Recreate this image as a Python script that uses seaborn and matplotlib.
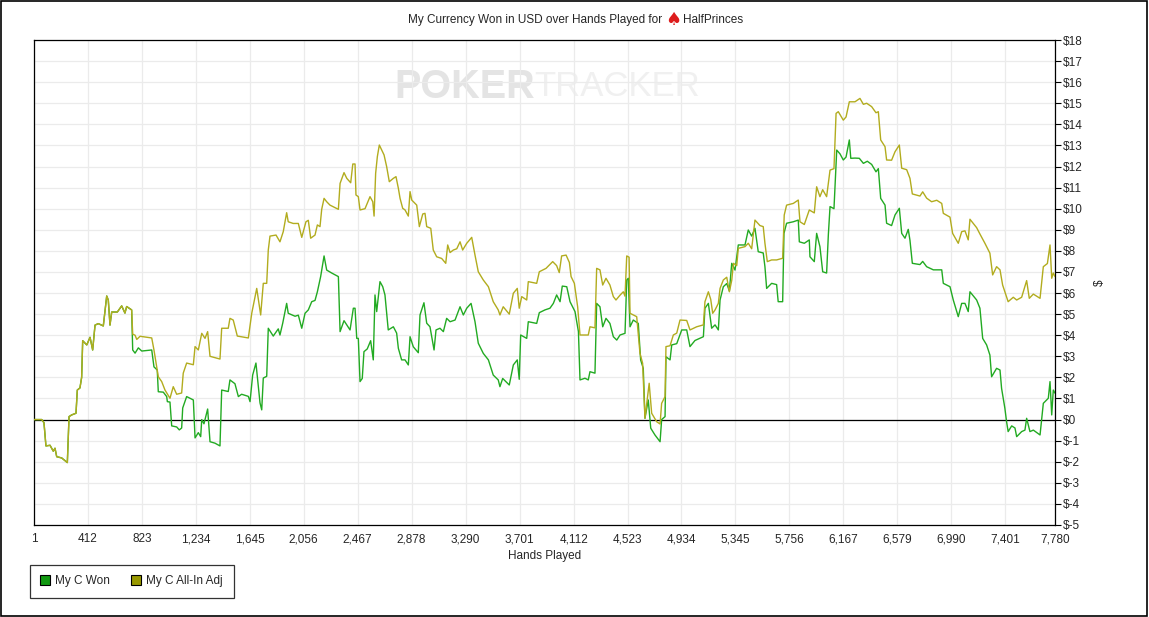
import pandas as pd
import numpy as np
import matplotlib.pyplot as plt
import seaborn as sns
from matplotlib.lines import Line2D
from matplotlib.patches import Rectangle

# ------------------ Data ------------------
won_hands = [1, 60, 77, 92, 123, 148, 161, 174, 212, 255, 268, 288, 321, 331, 351, 364, 372, 403, 428, 448,
             466, 491, 529, 555, 567, 580, 593, 636, 669, 694, 707, 745, 753, 771, 796, 822, 898, 915, 940, 948,
             986, 1012, 1017, 1037, 1050, 1088, 1108, 1126, 1134, 1164, 1215, 1228, 1253, 1271, 1279, 1296, 1324,
             1342, 1380, 1418, 1431, 1481, 1494, 1532, 1558, 1583, 1634, 1647, 1667, 1692, 1723, 1736, 1748, 1774,
             1786, 1824, 1862, 1875, 1896, 1926, 1938, 1990, 2015, 2041, 2066, 2091, 2117, 2142, 2160, 2185, 2211,
             2231, 2269, 2320, 2333, 2363, 2409, 2434, 2447, 2460, 2472, 2485, 2502, 2515, 2540, 2566, 2586, 2599,
             2612, 2637, 2658, 2675, 2700, 2739, 2764, 2777, 2802, 2828, 2853, 2866, 2891, 2929, 2942, 2972, 2993,
             3018, 3049, 3064, 3094, 3120, 3145, 3171, 3209, 3247, 3272, 3298, 3331, 3361, 3386, 3424, 3463, 3500,
             3538, 3551, 3572, 3622, 3653, 3683, 3698, 3709, 3755, 3767, 3831, 3851, 3894, 3932, 3958, 3983, 4009,
             4026, 4060, 4085, 4123, 4149, 4161, 4199, 4224, 4237, 4275, 4288, 4313, 4334, 4359, 4389, 4415, 4441,
             4466, 4504, 4517, 4529, 4542, 4567, 4605, 4623, 4643, 4656, 4681, 4700, 4732, 4771, 4783, 4809, 4816,
             4847, 4860, 4898, 4936, 4974, 4999, 5037, 5101, 5113, 5139, 5164, 5190, 5215, 5228, 5253, 5279, 5299,
             5317, 5342, 5367, 5418, 5443, 5469, 5494, 5519, 5557, 5570, 5583, 5621, 5659, 5671, 5705, 5715, 5735,
             5786, 5824, 5832, 5870, 5908, 5913, 5946, 5964, 5989, 6010, 6040, 6053, 6066, 6096, 6117, 6142, 6167,
             6188, 6213, 6224, 6256, 6289, 6320, 6350, 6383, 6416, 6434, 6452, 6485, 6497, 6535, 6561, 6594, 6612,
             6637, 6662, 6675, 6693, 6751, 6772, 6802, 6853, 6917, 6929, 6980, 7005, 7043, 7069, 7094, 7119, 7132,
             7183, 7208, 7229, 7259, 7284, 7297, 7335, 7361, 7373, 7398, 7411, 7423, 7450, 7475, 7488, 7526, 7551,
             7564, 7589, 7615, 7666, 7691, 7729, 7742, 7755, 7767, 7780]
won_usd = [0, 0, -0.15, -1.25, -1.22, -1.5, -1.36, -1.76, -1.82, -2.04, 0.14, 0.22, 0.3, 1.4, 1.5, 2.0, 3.74, 3.54,
           3.9, 3.3, 4.48, 4.55, 4.44, 5.86, 5.67, 4.48, 5.1, 5.1, 5.39, 5.05, 5.36, 5.2, 3.3, 3.15, 3.4, 3.25, 3.3,
           2.5, 2.35, 1.32, 1.3, 1.09, 0.85, 0.83, -0.3, -0.35, -0.49, -0.4, 0.55, 1.09, 0.93, -0.87, -0.62, -0.81,
           0, -0.2, 0.5, -1.05, -1.12, -1.25, 1.4, 1.33, 1.88, 1.7, 1.09, 1.2, 1.1, 0.85, 2.11, 2.68, 0.79, 0.46,
           1.97, 2.05, 4.33, 3.96, 4.3, 4.01, 4.57, 5.51, 5.04, 4.9, 4.95, 4.33, 5.04, 5.2, 5.59, 5.65, 6.06, 6.78,
           7.76, 7.09, 6.95, 6.78, 4.17, 4.69, 4.25, 5.28, 5.28, 3.85, 3.85, 1.8, 1.95, 3.22, 3.35, 3.74, 2.83,
           5.91, 5.12, 6.54, 6.3, 5.91, 4.25, 4.4, 4.1, 3.38, 2.83, 2.83, 2.59, 3.93, 3.45, 3.17, 4.96, 5.54, 4.57,
           4.4, 3.3, 4.25, 4.33, 4.17, 4.8, 4.64, 4.72, 5.35, 4.96, 5.28, 5.51, 4.64, 3.62, 3.14, 2.83, 2.11, 1.88,
           1.56, 1.95, 1.64, 2.59, 2.83, 1.91, 4.01, 3.85, 4.64, 4.56, 5.07, 5.2, 5.28, 5.51, 5.91, 5.59, 6.33, 6.3,
           5.59, 5.12, 4.17, 1.88, 1.96, 1.88, 2.27, 2.2, 5.51, 5.35, 4.4, 4.8, 4.56, 3.93, 3.77, 4.01, 4.09, 6.62,
           6.7, 4.4, 4.72, 4.56, 2.83, 2.43, 0.06, 0.93, -0.41, -0.73, -1.05, 0, 0.14, 2.98, 2.83, 3.54, 3.6, 4.25,
           4.25, 3.46, 3.75, 3.93, 5.28, 5.51, 4.33, 4.49, 4.25, 5.67, 6.3, 6.45, 6.1, 7.41, 7.09, 8.28, 8.28, 8.99,
           8.7, 9.07, 7.96, 7.9, 7.25, 6.22, 6.46, 6.4, 5.59, 5.59, 8.83, 9.31, 9.38, 9.46, 8.43, 8.36, 8.52, 7.72,
           7.49, 8.83, 8.2, 7.01, 6.95, 8.75, 10.1, 10.0, 12.78, 12.6, 12.31, 12.45, 13.26, 12.39, 12.4, 12.39,
           12.15, 12.25, 12.1, 11.75, 11.9, 10.49, 10.17, 9.31, 9.2, 9.7, 10.02, 8.83, 8.6, 9.02, 8.5, 7.41, 7.35,
           7.5, 7.25, 7.1, 7.1, 6.46, 6.3, 5.67, 4.88, 5.51, 5.51, 5.12, 6.06, 5.67, 5.28, 3.85, 3.54, 3.06, 2.03,
           2.43, 2.35, 1.48, 0.54, -0.1, -0.57, -0.3, -0.4, -0.81, -0.57, -0.5, 0.06, -0.57, -0.5, -0.73, 0.77,
           1.01, 1.8, 0.22, 1.4, 1.25]

adj_hands = won_hands[:32] + [
    753, 771, 784, 809, 898, 915, 948, 974, 999, 1037, 1062, 1088, 1126, 1138, 1164, 1215, 1228, 1253, 1279,
    1304, 1324, 1342, 1418, 1431, 1481, 1494, 1519, 1550, 1634, 1660, 1698, 1728, 1748, 1774, 1786, 1799, 1845,
    1875, 1900, 1926, 1938, 1976, 2015, 2041, 2073, 2091, 2109, 2142, 2160, 2180, 2193, 2211, 2231, 2256, 2320,
    2333, 2363, 2384, 2414, 2430, 2447, 2454, 2472, 2485, 2523, 2561, 2582, 2592, 2604, 2617, 2632, 2650, 2668,
    2688, 2708, 2739, 2759, 2777, 2790, 2810, 2828, 2853, 2866, 2879, 2917, 2937, 2963, 2980, 2993, 3024, 3043,
    3069, 3107, 3138, 3153, 3171, 3196, 3222, 3247, 3267, 3298, 3336, 3361, 3386, 3424, 3463, 3500, 3538, 3551,
    3576, 3622, 3653, 3683, 3698, 3717, 3755, 3767, 3831, 3851, 3902, 3953, 3983, 4003, 4021, 4055, 4080, 4093,
    4118, 4143, 4161, 4224, 4237, 4275, 4288, 4313, 4334, 4359, 4389, 4415, 4435, 4466, 4491, 4504, 4517, 4535,
    4542, 4593, 4618, 4638, 4656, 4688, 4707, 4745, 4771, 4783, 4809, 4816, 4847, 4872, 4898, 4923, 4974, 4999,
    5050, 5101, 5113, 5139, 5157, 5172, 5190, 5215, 5228, 5253, 5279, 5299, 5317, 5330, 5355, 5367, 5418, 5443,
    5469, 5494, 5532, 5557, 5570, 5588, 5621, 5659, 5705, 5717, 5735, 5786, 5824, 5837, 5870, 5908, 5946, 5964,
    5989, 6010, 6040, 6066, 6096, 6112, 6129, 6167, 6188, 6213, 6256, 6294, 6320, 6345, 6383, 6416, 6434, 6452,
    6485, 6497, 6535, 6561, 6594, 6612, 6650, 6675, 6693, 6751, 6772, 6802, 6840, 6879, 6917, 6929, 6980, 7000,
    7043, 7069, 7094, 7119, 7132, 7183, 7208, 7246, 7284, 7305, 7335, 7361, 7381, 7423, 7462, 7488, 7526, 7564,
    7584, 7615, 7666, 7691, 7722, 7742, 7755, 7767, 7780]
adj_usd = won_usd[:32] + [
    4.05, 4.0, 3.8, 3.95, 3.87, 3.3, 2.03, 1.8, 1.4, 1.01, 1.56, 1.2, 1.26, 2.2, 2.68, 2.6, 3.46, 3.3, 4.09,
    3.85, 4.17, 3.0, 2.87, 4.33, 4.33, 4.8, 4.72, 3.96, 3.87, 5.04, 6.22, 4.96, 6.46, 6.46, 8.04, 8.7, 8.75,
    8.43, 8.91, 9.81, 9.38, 9.3, 9.3, 8.64, 9.38, 9.45, 8.6, 8.75, 9.23, 9.15, 9.97, 10.49, 10.33, 10.17, 9.97,
    11.2, 11.71, 11.44, 11.23, 12.12, 12.12, 10.65, 10.57, 9.94, 10.0, 10.57, 10.33, 9.65, 11.68, 12.47, 13.02,
    12.78, 12.55, 11.99, 11.28, 11.44, 11.52, 10.97, 10.49, 10.02, 9.94, 9.65, 10.81, 10.41, 10.17, 9.15, 9.75,
    9.78, 9.15, 9.07, 8.04, 7.72, 7.64, 7.41, 8.28, 7.92, 8.04, 8.1, 8.43, 8.04, 8.36, 8.64, 7.8, 7.01, 6.62,
    6.3, 5.59, 5.2, 4.96, 5.35, 5.0, 5.99, 6.22, 5.28, 5.83, 5.67, 6.54, 6.46, 7.01, 7.17, 7.49, 7.3, 6.97,
    7.76, 7.8, 7.45, 6.78, 6.46, 5.35, 4.01, 4.01, 4.4, 4.35, 7.17, 7.1, 6.38, 6.7, 6.38, 5.83, 5.67, 5.9, 6.06,
    5.85, 7.76, 7.7, 5.04, 4.88, 3.14, 2.67, 0.06, 1.72, 0.3, -0.1, -0.21, 0.77, 1.09, 3.46, 3.5, 4.01, 4.1,
    4.72, 4.7, 4.25, 4.4, 4.49, 5.59, 6.06, 5.7, 5.04, 5.2, 5.51, 6.22, 6.62, 6.75, 6.06, 6.6, 7.41, 7.3, 8.12,
    8.2, 8.36, 8.1, 9.46, 9.2, 9.15, 8.36, 7.49, 7.57, 7.57, 7.65, 9.7, 10.17, 10.25, 10.41, 9.38, 9.25, 9.94,
    9.8, 11.04, 10.57, 10.9, 10.57, 11.83, 11.9, 14.52, 14.6, 14.2, 14.35, 15.07, 15.07, 15.23, 14.95, 15.0,
    14.84, 14.55, 14.6, 13.26, 12.94, 12.31, 12.3, 12.7, 13.02, 11.92, 11.85, 11.44, 10.7, 10.6, 10.8, 10.5,
    10.33, 10.4, 10.25, 9.78, 9.6, 8.83, 8.36, 8.91, 8.95, 8.52, 9.5, 9.1, 8.8, 8.36, 7.89, 6.86, 7.25, 7.1,
    6.38, 5.59, 5.8, 5.67, 5.8, 6.59, 5.75, 5.95, 5.75, 7.25, 7.4, 8.28, 6.7, 6.95, 6.78]

series_names = ["My C Won", "My C All-In Adj"]
x_ticks = [1, 412, 823, 1234, 1645, 2056, 2467, 2878, 3290, 3701, 4112, 4523, 4934, 5345, 5756,
           6167, 6579, 6990, 7401, 7780]
y_ticks = list(range(-5, 19))

df = pd.concat([
    pd.DataFrame({"hands": won_hands, "usd": won_usd, "series": series_names[0]}),
    pd.DataFrame({"hands": adj_hands, "usd": adj_usd, "series": series_names[1]}),
], ignore_index=True)

# ------------------ Style ------------------
sns.set_style("white")
plt.rcParams['font.family'] = ['Liberation Sans', 'DejaVu Sans']
fs = 8.5
line_colors = {"My C Won": "#22aa22", "My C All-In Adj": "#b2ac1e"}
legend_colors = ["#119911", "#999900"]

W, H = 1149, 617
fig = plt.figure(figsize=(W / 100, H / 100), dpi=100)
ax = fig.add_axes([34 / W, 1 - 525 / H, (1055 - 34) / W, (525 - 40) / H])

# grid
ax.set_xticks(x_ticks)
ax.set_yticks(y_ticks)
ax.grid(True, color="#ebebeb", lw=0.9)
ax.set_axisbelow(True)

# faint watermark
ax.text(0.353, 0.904, "POKER", transform=ax.transAxes, fontsize=28.5, fontweight="bold",
        color="#e4e4e4", ha="left", va="center", zorder=0)
ax.text(0.490, 0.904, "TRACKER", transform=ax.transAxes, fontsize=25,
        color="#f0f0f0", ha="left", va="center", zorder=0)

ax.axhline(0, color="black", lw=0.9, zorder=3)

sns.lineplot(data=df, x="hands", y="usd", hue="series", palette=line_colors,
             estimator=None, sort=False, lw=1.0, legend=False, ax=ax, zorder=4)

ax.set_xlim(1, 7780)
ax.set_ylim(-5, 18)
ax.set_xticklabels([f"{t:,}" for t in x_ticks], fontsize=fs)
ax.yaxis.tick_right()
ax.yaxis.set_label_position("right")
ax.set_yticklabels([f"${t}" for t in y_ticks], fontsize=fs)
ax.tick_params(axis="both", direction="out", length=4, width=0.8, color="black", pad=2)
ax.tick_params(axis="y", left=False, right=True)
ax.set_xlabel("Hands Played", fontsize=fs, labelpad=3)
ax.set_ylabel("$", fontsize=fs, labelpad=8)
for s in ax.spines.values():
    s.set_color("black")
    s.set_linewidth(0.9)

# title in three pieces so the red spade sits between the words
ty = 1 - 20 / H
fig.text(662 / W, ty, "My Currency Won in USD over Hands Played for", fontsize=fs, ha="right", va="center")
fig.text(673 / W, ty, "\u2660", color="#dd1c1c", fontsize=13, ha="center", va="center", family="DejaVu Sans")
fig.text(683 / W, ty, "HalfPrinces", fontsize=fs, ha="left", va="center")

# legend
handles = [Line2D([], [], marker="s", ls="", markersize=7, markerfacecolor=c,
                  markeredgecolor="black", markeredgewidth=0.8) for c in legend_colors]
leg = fig.legend(handles, series_names, loc="lower left", bbox_to_anchor=(30 / W, 19 / H),
                 borderaxespad=0, ncol=2, fontsize=fs, frameon=True, fancybox=False, edgecolor="black",
                 handlelength=0.7, handletextpad=0.5, columnspacing=1.9, borderpad=0.9)
leg.get_frame().set_linewidth(0.9)

# outer border
fig.patches.append(Rectangle((0.0005, 0.001), 0.998, 0.997, transform=fig.transFigure,
                             fill=False, edgecolor="black", lw=1.2))

fig.savefig("out.png", dpi=100)
